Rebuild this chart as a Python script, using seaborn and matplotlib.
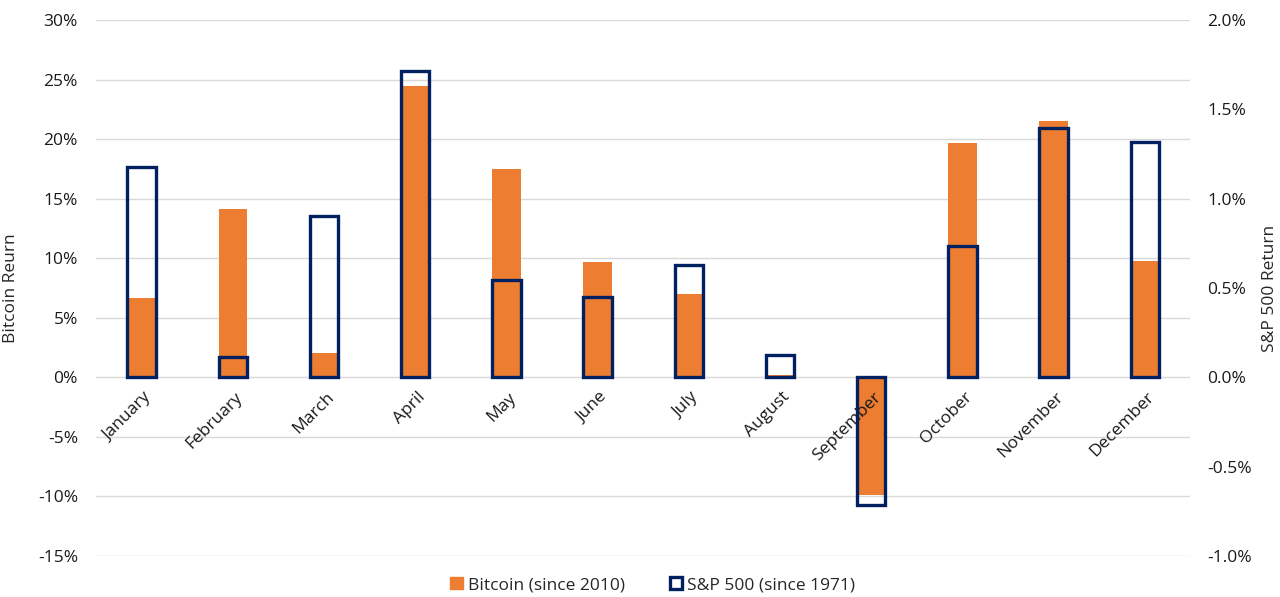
import matplotlib
matplotlib.use("Agg")
import matplotlib.pyplot as plt
import seaborn as sns
import pandas as pd
from matplotlib.patches import Patch
from matplotlib.ticker import FuncFormatter, MultipleLocator

months = ["January", "February", "March", "April", "May", "June",
          "July", "August", "September", "October", "November", "December"]
bitcoin_ret = [6.67, 14.1, 2.05, 24.45, 17.45, 9.66, 7.03, 0.2, -9.92, 19.64, 21.5, 9.78]
sp500_ret = [1.178, 0.114, 0.905, 1.712, 0.547, 0.448, 0.627, 0.125, -0.717, 0.733, 1.396, 1.316]

orange = "#ED7D31"
navy = "#002060"
grid_col = "#D9D9D9"
fs = 12.5

df = pd.DataFrame({"month": months, "bitcoin": bitcoin_ret, "sp500": sp500_ret})

sns.set_style("white")
plt.rcParams["font.family"] = ["Open Sans", "DejaVu Sans"]

fig = plt.figure(figsize=(12.8, 5.97), dpi=100)
ax = fig.add_axes([0.075, 0.0687, 0.855, 0.8978])
ax2 = ax.twinx()

sns.barplot(data=df, x="month", y="bitcoin", ax=ax, color=orange,
            saturation=1, width=0.31, linewidth=0)
sns.barplot(data=df, x="month", y="sp500", ax=ax2, color=navy, fill=False,
            width=0.31, linewidth=2.4)

ax.set_ylim(-15, 30)
ax2.set_ylim(-1.0, 2.0)
ax.set_xlim(-0.5, 11.5)
ax.yaxis.set_major_locator(MultipleLocator(5))
ax2.yaxis.set_major_locator(MultipleLocator(0.5))
ax.yaxis.set_major_formatter(FuncFormatter(lambda v, p: f"{v:.0f}%"))
ax2.yaxis.set_major_formatter(FuncFormatter(lambda v, p: f"{v:.1f}%"))

ax.set_axisbelow(True)
ax.grid(axis="y", color=grid_col, linewidth=1)
for a in (ax, ax2):
    for s in a.spines.values():
        s.set_visible(False)
    a.tick_params(length=0, labelsize=fs, colors="#1a1a1a")

ax.set_xlabel("")
ax2.set_xlabel("")
ax.set_ylabel("Bitcoin Reurn", fontsize=fs)
ax2.set_ylabel("S&P 500 Return", fontsize=fs, rotation=90)
ax.yaxis.set_label_coords(-0.07, 0.5)
ax2.yaxis.set_label_coords(1.065, 0.5)
ax.tick_params(axis="y", pad=13)
ax2.tick_params(axis="y", pad=12)

# month labels just under the zero line
ax.set_xticks(range(len(months)))
ax.set_xticklabels([])
for i, m in enumerate(months):
    ax.text(i + 0.02, -1.0, m, rotation=45, ha="right", va="top",
            rotation_mode="anchor", fontsize=fs, color="#1a1a1a")

handles = [Patch(facecolor=orange, edgecolor=orange),
           Patch(facecolor="white", edgecolor=navy, linewidth=2.4)]
fig.legend(handles, ["Bitcoin (since 2010)", "S&P 500 (since 1971)"],
           loc="lower center", bbox_to_anchor=(0.51, -0.02), ncol=2,
           frameon=False, fontsize=fs, handlelength=0.7, handleheight=0.7,
           handletextpad=0.3, columnspacing=2.6)

fig.savefig("out.png", dpi=100)
